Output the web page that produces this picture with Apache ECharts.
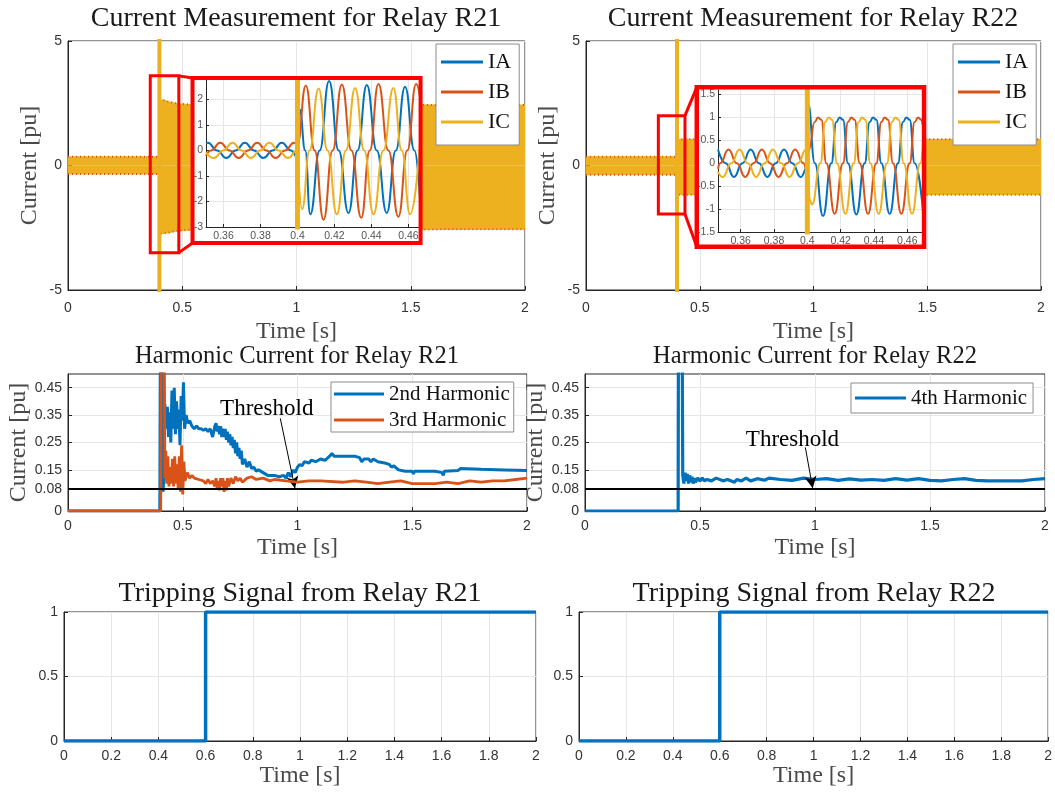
<!DOCTYPE html>
<html><head><meta charset="utf-8">
<script src="https://cdn.jsdelivr.net/npm/echarts@6/dist/echarts.min.js"></script>
<style>html,body{margin:0;padding:0;background:#fff}#c{width:1055px;height:793px}</style>
</head><body><div id="c"></div>
<script>
// ---------------- DATA ----------------
const timeTicksMain = [0, 0.5, 1, 1.5, 2];
const insetTicksX = [0.36, 0.38, 0.40, 0.42, 0.44, 0.46];
const insetTicksYR21 = [-3, -2, -1, 0, 1, 2];
const insetTicksYR22 = [-1.5, -1, -0.5, 0, 0.5, 1, 1.5];
const harmonicTicks = [0, 0.08, 0.15, 0.25, 0.35, 0.45];
const faultTime = 0.4;
const spikeRange = [-20, 20];          // IC transient at the fault goes off-scale
const threshold = 0.08;

// envelope of the dense three-phase waveform (peak / trough of the band)
const r21EnvTop = [[0,0.35],[0.4,0.35],[0.402,2.64],[0.42,2.62],[0.44,2.56],[0.48,2.48],[0.55,2.44],[2,2.43]];
const r21EnvBot = [[0,-0.34],[0.4,-0.34],[0.402,-2.74],[0.44,-2.7],[0.48,-2.62],[0.55,-2.58],[2,-2.56]];
const r22EnvTop = [[0,0.35],[0.4,0.35],[0.403,1.05],[2,1.05]];
const r22EnvBot = [[0,-0.37],[0.4,-0.37],[0.403,-1.17],[2,-1.17]];

// zoom boxes [t0, v0, t1, v1] in main-axis units
const r21ZoomSrc = [0.36, -3.5, 0.485, 3.6];
const r21ZoomDst = [0.545, -3.11, 1.543, 3.51];
const r22ZoomSrc = [0.318, -1.95, 0.435, 2.0];
const r22ZoomDst = [0.487, -3.26, 1.486, 3.14];

// inset waveforms (peaks, troughs, zero crossings)
const r21InsetIA = [[0.3505,0.29],[0.3515,0.3],[0.3565,0],[0.3615,-0.3],[0.3665,0],[0.3715,0.3],[0.3765,0],[0.3815,-0.3],[0.3865,0],[0.3915,0.3],[0.3965,0],[0.4,-0.27],[0.4012,1.6],[0.4042,0],[0.4069,-2.5],[0.412,0],[0.4171,2.72],[0.4223,0],[0.4276,-2.45],[0.4325,0],[0.4375,2.56],[0.4429,0],[0.4483,-2.45],[0.4532,0],[0.4582,2.5],[0.4633,0],[0.4663,-1.9]];
const r21InsetIB = [[0.3505,-0.22],[0.3532,0],[0.3582,0.3],[0.3632,0],[0.3682,-0.3],[0.3732,0],[0.3782,0.3],[0.3832,0],[0.3882,-0.3],[0.3932,0],[0.3982,0.3],[0.4,0.25],[0.4045,2.55],[0.4093,0],[0.4141,-2.72],[0.419,0],[0.424,2.58],[0.4292,0],[0.4345,-2.64],[0.4391,0],[0.4438,2.6],[0.4492,0],[0.4546,-2.6],[0.4594,0],[0.4642,2.6],[0.4663,2.1]];
const r21InsetIC = [[0.3505,-0.07],[0.3548,-0.3],[0.3598,0],[0.3648,0.3],[0.3698,0],[0.3748,-0.3],[0.3798,0],[0.3848,0.3],[0.3898,0],[0.3948,-0.3],[0.3998,0],[0.4,0.02],[0.4025,-2.3],[0.4065,0],[0.4114,2.43],[0.4163,0],[0.4213,-2.5],[0.4262,0],[0.4312,2.45],[0.4361,0],[0.4411,-2.5],[0.4465,0],[0.4519,2.45],[0.4564,0],[0.4609,-2.5],[0.4663,0.3]];

const r22InsetIA = [[0.3464,0.3],[0.351,0],[0.356,-0.3],[0.361,0],[0.366,0.3],[0.371,0],[0.376,-0.3],[0.381,0],[0.386,0.3],[0.391,0],[0.396,-0.3],[0.4,-0.09],[0.4005,1.3],[0.4045,0],[0.4094,-1.15],[0.4144,0],[0.4174,0.9],[0.4194,1.0],[0.4214,0.95],[0.4244,0],[0.4294,-1.12],[0.4344,0],[0.4374,0.9],[0.4394,1.0],[0.4414,0.95],[0.4444,0],[0.4494,-1.1],[0.4544,0],[0.4574,0.9],[0.4594,1.0],[0.4614,0.95],[0.4644,0],[0.4694,-1.05]];
const r22InsetIB = [[0.3464,-0.12],[0.3477,0],[0.3527,0.3],[0.3577,0],[0.3627,-0.3],[0.3677,0],[0.3727,0.3],[0.3777,0],[0.3827,-0.3],[0.3877,0],[0.3927,0.3],[0.3977,0],[0.4,-0.2],[0.401,0.3],[0.4044,0.9],[0.4064,1.0],[0.4084,0.95],[0.4114,0],[0.4164,-1.1],[0.4214,0],[0.4244,0.9],[0.4264,1.0],[0.4284,0.95],[0.4314,0],[0.4364,-1.1],[0.4414,0],[0.4444,0.9],[0.4464,1.0],[0.4484,0.95],[0.4514,0],[0.4564,-1.1],[0.4614,0],[0.4644,0.9],[0.4664,1.0],[0.4684,0.95],[0.4694,0.8]];
const r22InsetIC = [[0.3464,-0.18],[0.3493,-0.3],[0.3543,0],[0.3593,0.3],[0.3643,0],[0.3693,-0.3],[0.3743,0],[0.3793,0.3],[0.3843,0],[0.3893,-0.3],[0.3943,0],[0.3993,0.3],[0.4,0.29],[0.4015,-0.8],[0.4028,-0.9],[0.4078,0],[0.4108,0.9],[0.4128,1.0],[0.4148,0.95],[0.4178,0],[0.4228,-1.1],[0.4278,0],[0.4308,0.9],[0.4328,1.0],[0.4348,0.95],[0.4378,0],[0.4428,-1.1],[0.4478,0],[0.4508,0.9],[0.4528,1.0],[0.4548,0.95],[0.4578,0],[0.4628,-1.1],[0.4678,0],[0.4694,0.45]];

// harmonic magnitudes
const h2R21 = [[0,0],[0.4,0],[0.402,0.55],[0.412,0.55],[0.414,0.07],[0.418,0.12],[0.422,0.39],[0.428,0.3],[0.433,0.38],[0.438,0.27],[0.443,0.36],[0.448,0.25],[0.453,0.44],[0.458,0.3],[0.463,0.45],[0.468,0.28],[0.473,0.4],[0.478,0.3],[0.483,0.37],[0.488,0.24],[0.493,0.42],[0.498,0.33],[0.503,0.47],[0.508,0.3],[0.515,0.35],[0.522,0.32],[0.53,0.33],[0.54,0.31],[0.55,0.3],[0.56,0.31],[0.57,0.3],[0.58,0.3],[0.59,0.295],[0.6,0.3],[0.61,0.29],[0.62,0.3],[0.63,0.27],[0.64,0.31],[0.645,0.32],[0.65,0.29],[0.655,0.31],[0.66,0.28],[0.665,0.31],[0.67,0.27],[0.675,0.3],[0.68,0.27],[0.685,0.3],[0.69,0.26],[0.695,0.29],[0.7,0.25],[0.705,0.28],[0.71,0.24],[0.715,0.27],[0.72,0.23],[0.725,0.26],[0.73,0.21],[0.735,0.25],[0.74,0.2],[0.745,0.23],[0.75,0.19],[0.755,0.22],[0.76,0.17],[0.77,0.19],[0.78,0.16],[0.79,0.18],[0.8,0.155],[0.81,0.16],[0.82,0.145],[0.83,0.15],[0.85,0.14],[0.87,0.13],[0.9,0.13],[0.92,0.125],[0.94,0.13],[0.95,0.12],[0.96,0.14],[0.97,0.125],[0.98,0.15],[0.99,0.14],[1.0,0.16],[1.01,0.17],[1.02,0.165],[1.03,0.18],[1.05,0.175],[1.06,0.185],[1.08,0.18],[1.1,0.19],[1.12,0.185],[1.14,0.2],[1.15,0.21],[1.16,0.2],[1.2,0.2],[1.25,0.2],[1.27,0.195],[1.28,0.18],[1.29,0.19],[1.31,0.19],[1.32,0.18],[1.33,0.19],[1.35,0.18],[1.38,0.175],[1.4,0.17],[1.41,0.16],[1.42,0.165],[1.44,0.15],[1.47,0.145],[1.5,0.145],[1.505,0.135],[1.51,0.145],[1.6,0.145],[1.63,0.14],[1.635,0.13],[1.64,0.145],[1.7,0.148],[1.71,0.155],[1.8,0.152],[1.9,0.15],[2,0.148]];
const h3R21 = [[0,0],[0.404,0],[0.406,0.55],[0.42,0.55],[0.422,0.12],[0.426,0.22],[0.43,0.1],[0.435,0.2],[0.44,0.09],[0.445,0.16],[0.45,0.1],[0.455,0.19],[0.46,0.09],[0.465,0.2],[0.47,0.1],[0.475,0.17],[0.48,0.08],[0.485,0.2],[0.49,0.07],[0.495,0.24],[0.5,0.06],[0.505,0.18],[0.51,0.11],[0.52,0.14],[0.53,0.12],[0.54,0.13],[0.55,0.12],[0.57,0.115],[0.59,0.11],[0.6,0.1],[0.61,0.115],[0.62,0.1],[0.63,0.11],[0.64,0.09],[0.645,0.12],[0.65,0.08],[0.655,0.11],[0.66,0.075],[0.665,0.12],[0.67,0.09],[0.675,0.12],[0.68,0.07],[0.685,0.11],[0.69,0.075],[0.695,0.12],[0.7,0.09],[0.71,0.12],[0.72,0.1],[0.73,0.125],[0.74,0.11],[0.75,0.12],[0.76,0.105],[0.78,0.12],[0.8,0.125],[0.82,0.115],[0.85,0.12],[0.88,0.11],[0.9,0.115],[0.95,0.11],[1.0,0.105],[1.05,0.11],[1.1,0.11],[1.2,0.105],[1.25,0.11],[1.3,0.105],[1.35,0.1],[1.4,0.105],[1.45,0.11],[1.5,0.1],[1.55,0.1],[1.6,0.1],[1.65,0.105],[1.7,0.1],[1.75,0.11],[1.8,0.105],[1.85,0.11],[1.9,0.11],[1.95,0.115],[2,0.12]];
const h4R22 = [[0,0],[0.405,0],[0.406,0.55],[0.423,0.55],[0.425,0.13],[0.43,0.1],[0.435,0.14],[0.44,0.11],[0.445,0.135],[0.45,0.1],[0.455,0.13],[0.46,0.105],[0.465,0.125],[0.47,0.1],[0.475,0.12],[0.48,0.105],[0.49,0.12],[0.5,0.11],[0.51,0.12],[0.52,0.11],[0.53,0.115],[0.55,0.11],[0.57,0.12],[0.6,0.11],[0.62,0.115],[0.65,0.105],[0.66,0.115],[0.68,0.11],[0.7,0.12],[0.72,0.11],[0.75,0.118],[0.78,0.112],[0.8,0.12],[0.85,0.115],[0.9,0.112],[0.95,0.12],[1.0,0.115],[1.05,0.118],[1.1,0.112],[1.15,0.117],[1.2,0.113],[1.25,0.115],[1.3,0.112],[1.35,0.118],[1.4,0.113],[1.45,0.118],[1.5,0.112],[1.55,0.11],[1.6,0.115],[1.65,0.118],[1.7,0.112],[1.75,0.11],[1.8,0.11],[1.85,0.11],[1.9,0.11],[1.95,0.115],[2,0.118]];

// threshold annotations: text anchor and arrow [start, end]
const r21Label = [0.866, 0.372];
const r21Arrow = [[0.925, 0.338], [0.989, 0.083]];
const r22Label = [0.902, 0.26];
const r22Arrow = [[0.958, 0.232], [0.99, 0.083]];

// tripping signals
const tripR21 = [[0,0],[0.6,0],[0.6,1],[2,1]];
const tripR22 = [[0,0],[0.6,0],[0.6,1],[2,1]];

// ---------------- STYLE ----------------
const C_A = '#0072BD', C_B = '#D95319', C_C = '#EDB120', RED = '#FF0000';
const SERIF = "'Liberation Serif','DejaVu Serif',serif";
const SANS = "'Liberation Sans','DejaVu Sans',sans-serif";
const AX = '#262626', TXT = '#333333', GRIDC = '#e6e6e6', LBL = '#4a4a4a';

function xAx(gi, min, max, interval, name, nameGap, margin) {
  return {gridIndex: gi, type: 'value', min, max, interval,
    name, nameLocation: 'middle', nameGap,
    nameTextStyle: {fontFamily: SERIF, fontSize: 24, color: LBL},
    axisLine: {show: true, onZero: false, lineStyle: {color: AX, width: 1}},
    axisTick: {show: true, inside: true, length: 4, lineStyle: {color: AX}},
    axisLabel: {color: TXT, fontFamily: SANS, fontSize: 14, margin},
    splitLine: {show: true, lineStyle: {color: GRIDC, width: 1}}};
}
function yAx(gi, min, max, extra) {
  return Object.assign({gridIndex: gi, type: 'value', min, max,
    nameLocation: 'middle', nameTextStyle: {fontFamily: SERIF, fontSize: 24, color: LBL},
    axisLine: {show: true, onZero: false, lineStyle: {color: AX, width: 1}},
    axisTick: {show: true, inside: true, length: 4, lineStyle: {color: AX}},
    axisLabel: {color: TXT, fontFamily: SANS, fontSize: 14, margin: 6},
    splitLine: {show: true, lineStyle: {color: GRIDC, width: 1}}}, extra);
}
function insetX(gi, min, max) {
  return {gridIndex: gi, type: 'value', min, max, z: 9,
    axisLine: {show: true, onZero: false, lineStyle: {color: AX}},
    axisTick: {show: true, inside: true, length: 3, customValues: insetTicksX, lineStyle: {color: AX}},
    axisLabel: {customValues: insetTicksX, color: '#555', fontFamily: SANS, fontSize: 10.5, margin: 4,
      formatter: v => String(+(+v).toFixed(2))},
    splitLine: {show: true, lineStyle: {color: GRIDC}}};
}
function insetY(gi, min, max, ticks) {
  return {gridIndex: gi, type: 'value', min, max, z: 9,
    axisLine: {show: true, onZero: false, lineStyle: {color: AX}},
    axisTick: {show: true, inside: true, length: 3, customValues: ticks, lineStyle: {color: AX}},
    axisLabel: {customValues: ticks, color: '#555', fontFamily: SANS, fontSize: 10.5, margin: 3},
    splitLine: {show: true, lineStyle: {color: GRIDC}}};
}
function rectSeries(gi, box, fill, lw, z) {
  return {type: 'custom', xAxisIndex: gi, yAxisIndex: gi, z, silent: true, data: [box],
    renderItem: function (params, api) {
      const a = api.coord([api.value(0), api.value(1)]);
      const b = api.coord([api.value(2), api.value(3)]);
      return {type: 'rect', shape: {x: Math.min(a[0], b[0]), y: Math.min(a[1], b[1]),
        width: Math.abs(b[0] - a[0]), height: Math.abs(b[1] - a[1])},
        style: {fill: fill, stroke: lw ? RED : null, lineWidth: lw}};
    }};
}
function linkSeries(gi, src, dst) {
  return [
    {type: 'line', xAxisIndex: gi, yAxisIndex: gi, z: 6, silent: true, showSymbol: false,
     data: [[src[2], src[3]], [dst[0], dst[3]]], lineStyle: {color: RED, width: 3}},
    {type: 'line', xAxisIndex: gi, yAxisIndex: gi, z: 6, silent: true, showSymbol: false,
     data: [[src[2], src[1]], [dst[0], dst[1]]], lineStyle: {color: RED, width: 3}}];
}
function wave(name, gi, data, color) {
  return {name, type: 'line', xAxisIndex: gi, yAxisIndex: gi, data, smooth: 0.5, smoothMonotone: 'x',
    showSymbol: false, z: 10, lineStyle: {color, width: 2}, itemStyle: {color}};
}
function spike(gi, width, z) {
  return {name: 'IC', type: 'line', xAxisIndex: gi, yAxisIndex: gi, z, showSymbol: false,
    data: [[faultTime, spikeRange[0]], [faultTime, spikeRange[1]]], lineStyle: {color: C_C, width}, itemStyle: {color: C_C}};
}
function band(gi, data) {
  return {name: 'IC', type: 'line', xAxisIndex: gi, yAxisIndex: gi, z: 2, showSymbol: false, data,
    lineStyle: {color: C_C, width: 1}, itemStyle: {color: C_C}, areaStyle: {color: C_C, opacity: 1}};
}
function edge(gi, data) {
  return {name: 'IB', type: 'line', xAxisIndex: gi, yAxisIndex: gi, z: 3, showSymbol: false, data,
    lineStyle: {color: C_B, width: 2, type: [1, 3]}, itemStyle: {color: C_B}};
}
function annot(gi, label, arrow) {
  return {type: 'line', xAxisIndex: gi, yAxisIndex: gi, z: 8, data: [], silent: true,
    markLine: {silent: true, symbol: ['none', 'arrow'], symbolSize: [9, 12], animation: false,
      lineStyle: {color: '#000', width: 1, type: 'solid'}, label: {show: false},
      data: [[{coord: arrow[0]}, {coord: arrow[1]}]]},
    markPoint: {silent: true, symbol: 'rect', symbolSize: 1, itemStyle: {color: 'rgba(0,0,0,0)'},
      label: {show: true, position: 'inside', formatter: 'Threshold', color: '#000', fontFamily: SERIF, fontSize: 23},
      data: [{coord: label}]}};
}
function legendBox(left, top, data, fs, lh, iw, gap, pad) {
  return {left, top, data, orient: 'vertical', icon: 'rect', itemWidth: iw, itemHeight: 3, itemGap: gap,
    padding: pad, backgroundColor: '#fff', borderColor: '#8c8c8c', borderWidth: 1, selectedMode: false, z: 30,
    textStyle: {fontFamily: SERIF, fontSize: fs, color: '#111', lineHeight: lh}};
}
function title(text, cx, top, fs) {
  return {text, left: cx, top, textAlign: 'center', padding: 0,
    textStyle: {fontFamily: SERIF, fontSize: fs, fontWeight: 'normal', color: '#1a1a1a'}};
}

const grids = [
  {left: 68, top: 41, width: 457, height: 249},
  {left: 586, top: 41, width: 455, height: 249},
  {left: 206, top: 79, width: 214, height: 148},
  {left: 718, top: 90, width: 205, height: 142},
  {left: 68, top: 374, width: 459, height: 137},
  {left: 585, top: 374, width: 460, height: 137},
  {left: 64, top: 612, width: 472, height: 129},
  {left: 579, top: 612, width: 470, height: 129}
].map((g, i) => Object.assign({show: i !== 2 && i !== 3, borderColor: AX, borderWidth: 1, backgroundColor: 'rgba(0,0,0,0)'}, g));

const harmY = (gi) => yAx(gi, 0, 0.5, {name: 'Current [pu]', nameGap: 37,
  axisTick: {show: true, inside: true, length: 4, customValues: harmonicTicks, lineStyle: {color: AX}},
  axisLabel: {customValues: harmonicTicks, color: TXT, fontFamily: SANS, fontSize: 14, margin: 6}});

const option = {
  animation: false,
  backgroundColor: '#fff',
  title: [
    title('Current Measurement for Relay R21', 296, 5, 28),
    title('Current Measurement for Relay R22', 813, 5, 28),
    title('Harmonic Current for Relay R21', 297, 344, 24.5),
    title('Harmonic Current for Relay R22', 815, 344, 24.5),
    title('Tripping Signal from Relay R21', 300, 580, 28),
    title('Tripping Signal from Relay R22', 814, 580, 28)
  ],
  legend: [
    legendBox(436, 44, ['IA', 'IB', 'IC'], 22, 24, 42, 6, [6, 8, 11, 5]),
    legendBox(953, 44, ['IA', 'IB', 'IC'], 22, 24, 42, 6, [6, 8, 11, 5]),
    legendBox(331, 382, ['2nd Harmonic', '3rd Harmonic'], 21, 22, 50, 4, [1, 4, 1, 3]),
    legendBox(851, 383, ['4th Harmonic'], 21, 24, 51, 4, [3, 6, 3, 4])
  ],
  grid: grids,
  xAxis: [
    xAx(0, 0, 2, 0.5, 'Time [s]', 30, 11),
    xAx(1, 0, 2, 0.5, 'Time [s]', 30, 11),
    insetX(2, 0.3505, 0.4663),
    insetX(3, 0.3464, 0.4694),
    xAx(4, 0, 2, 0.5, 'Time [s]', 25, 8),
    xAx(5, 0, 2, 0.5, 'Time [s]', 25, 8),
    xAx(6, 0, 2, 0.2, 'Time [s]', 22, 8),
    xAx(7, 0, 2, 0.2, 'Time [s]', 22, 8)
  ],
  yAxis: [
    yAx(0, -5, 5, {interval: 5, name: 'Current [pu]', nameGap: 26}),
    yAx(1, -5, 5, {interval: 5, name: 'Current [pu]', nameGap: 26}),
    insetY(2, -3, 2.8, insetTicksYR21),
    insetY(3, -1.5, 1.6, insetTicksYR22),
    harmY(4),
    harmY(5),
    yAx(6, 0, 1, {interval: 0.5}),
    yAx(7, 0, 1, {interval: 0.5})
  ],
  series: [
    // insets (first so that legend picks the solid phase colours)
    wave('IA', 2, r21InsetIA, C_A), wave('IB', 2, r21InsetIB, C_B), wave('IC', 2, r21InsetIC, C_C),
    wave('IA', 3, r22InsetIA, C_A), wave('IB', 3, r22InsetIB, C_B), wave('IC', 3, r22InsetIC, C_C),
    spike(2, 5, 11), spike(3, 5, 11),
    // main current plots
    band(0, r21EnvTop), band(0, r21EnvBot), edge(0, r21EnvTop), edge(0, r21EnvBot), spike(0, 4, 4),
    band(1, r22EnvTop), band(1, r22EnvBot), edge(1, r22EnvTop), edge(1, r22EnvBot), spike(1, 4, 4),
    rectSeries(0, r21ZoomSrc, 'rgba(0,0,0,0)', 3, 5), rectSeries(0, r21ZoomDst, '#fff', 0, 6), rectSeries(0, r21ZoomDst, 'rgba(0,0,0,0)', 4, 12),
    rectSeries(1, r22ZoomSrc, 'rgba(0,0,0,0)', 3, 5), rectSeries(1, r22ZoomDst, '#fff', 0, 6), rectSeries(1, r22ZoomDst, 'rgba(0,0,0,0)', 4.5, 12),
    ...linkSeries(0, r21ZoomSrc, r21ZoomDst), ...linkSeries(1, r22ZoomSrc, r22ZoomDst),
    // harmonics
    {name: '2nd Harmonic', type: 'line', xAxisIndex: 4, yAxisIndex: 4, data: h2R21, showSymbol: false, z: 4,
     lineStyle: {color: C_A, width: 3}, itemStyle: {color: C_A}},
    {name: '3rd Harmonic', type: 'line', xAxisIndex: 4, yAxisIndex: 4, data: h3R21, showSymbol: false, z: 5,
     lineStyle: {color: C_B, width: 2.8}, itemStyle: {color: C_B}},
    {name: '4th Harmonic', type: 'line', xAxisIndex: 5, yAxisIndex: 5, data: h4R22, showSymbol: false, z: 4,
     lineStyle: {color: C_A, width: 3.2}, itemStyle: {color: C_A}},
    {type: 'line', xAxisIndex: 4, yAxisIndex: 4, data: [[0, threshold], [2, threshold]], showSymbol: false, z: 6,
     lineStyle: {color: '#000', width: 2}, silent: true},
    {type: 'line', xAxisIndex: 5, yAxisIndex: 5, data: [[0, threshold], [2, threshold]], showSymbol: false, z: 6,
     lineStyle: {color: '#000', width: 2}, silent: true},
    annot(4, r21Label, r21Arrow), annot(5, r22Label, r22Arrow),
    // tripping
    {type: 'line', xAxisIndex: 6, yAxisIndex: 6, data: tripR21, showSymbol: false, z: 4, lineStyle: {color: C_A, width: 3.5}},
    {type: 'line', xAxisIndex: 7, yAxisIndex: 7, data: tripR22, showSymbol: false, z: 4, lineStyle: {color: C_A, width: 3.5}}
  ]
};
const chart = echarts.init(document.getElementById('c'));
chart.setOption(option);
</script></body></html>
